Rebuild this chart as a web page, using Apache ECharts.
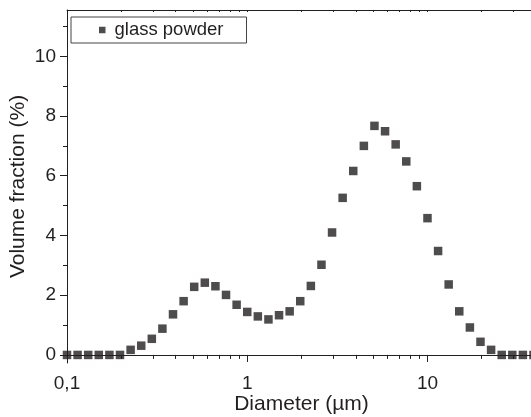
<!DOCTYPE html>
<html>
<head>
<meta charset="utf-8">
<script src="https://cdn.jsdelivr.net/npm/echarts@6/dist/echarts.min.js"></script>
<style>
html,body{margin:0;padding:0;background:#fff;}
#c{width:531px;height:417px;}
</style>
</head>
<body>
<div id="c"></div>
<script>
// Particle diameters (µm)
const diameters = [0.1, 0.1145, 0.1311, 0.1501, 0.1719, 0.1968, 0.2254, 0.2581, 0.2955, 0.3383,
  0.3874, 0.4436, 0.5079, 0.5816, 0.6660, 0.7626, 0.8732,
  1.0, 1.145, 1.311, 1.501, 1.719, 1.968, 2.254, 2.581, 2.955, 3.383,
  3.874, 4.436, 5.079, 5.816, 6.660, 7.626, 8.732,
  10.0, 11.45, 13.11, 15.01, 17.19, 19.68, 22.54, 25.81, 29.55, 33.83, 38.74];
// Volume fraction (%)
const glassPowder = [0, 0, 0, 0, 0, 0, 0.17, 0.31, 0.54, 0.88,
  1.36, 1.80, 2.28, 2.42, 2.30, 2.01, 1.68,
  1.44, 1.29, 1.19, 1.33, 1.46, 1.80, 2.31, 3.02, 4.10,
  5.26, 6.16, 7.00, 7.67, 7.49, 7.05, 6.48, 5.65,
  4.58, 3.48, 2.36, 1.46, 0.92, 0.44, 0.17, 0, 0, 0, 0];
const seriesName = 'glass powder';
const xMajorTicks = [0.1, 1, 10];
const xMinorTicks = [0.2, 0.3, 0.4, 0.5, 0.6, 0.7, 0.8, 0.9, 2, 3, 4, 5, 6, 7, 8, 9, 20, 30, 40];
const yMajorTicks = [0, 2, 4, 6, 8, 10];
const yMinorTicks = [1, 3, 5, 7, 9, 11];

const FONT = 'Liberation Sans, Arial, sans-serif';
const INK = '#231f20';
const chart = echarts.init(document.getElementById('c'), null, {renderer: 'canvas'});
const xRange = {min: 0.1, max: 40};
const yRange = {min: -0.27, max: 11.55};

chart.setOption({
  animation: false,
  backgroundColor: '#fff',
  textStyle: {fontFamily: FONT, color: INK},
  grid: {left: 67, top: 10, right: -5, bottom: 54, containLabel: false, outerBoundsMode: 'none'},
  legend: {
    data: [seriesName],
    left: 71, top: 17,
    orient: 'horizontal',
    icon: 'rect',
    itemWidth: 6.5, itemHeight: 6.5,
    padding: [3, 23, 3, 28],
    borderColor: '#444', borderWidth: 1,
    textStyle: {fontFamily: FONT, fontSize: 18.5, color: INK, padding: [0, 0, 0, 4], lineHeight: 20}
  },
  xAxis: [
    {
      type: 'log', logBase: 10, min: xRange.min, max: xRange.max, position: 'bottom',
      name: 'Diameter (\u00b5m)', nameLocation: 'middle', nameGap: 31, nameMoveOverlap: false,
      nameTextStyle: {fontFamily: FONT, fontSize: 21, color: INK},
      axisLine: {show: true, lineStyle: {color: INK, width: 1}},
      axisTick: {show: true, customValues: xMajorTicks, length: 7, inside: false, lineStyle: {color: INK}},
      axisLabel: {customValues: xMajorTicks, fontFamily: FONT, fontSize: 19, color: INK, margin: 11,
        formatter: v => String(v).replace('.', ',')},
      splitLine: {show: false}, minorTick: {show: false}
    },
    {
      type: 'log', logBase: 10, min: xRange.min, max: xRange.max, position: 'bottom',
      axisLine: {show: false},
      axisTick: {show: true, customValues: xMinorTicks, length: 4, inside: false, lineStyle: {color: INK}},
      axisLabel: {show: false},
      splitLine: {show: false}
    },
    {
      type: 'log', logBase: 10, min: xRange.min, max: xRange.max, position: 'top',
      axisLine: {show: true, lineStyle: {color: INK, width: 1}},
      axisTick: {show: true, customValues: xMajorTicks.concat(xMinorTicks), length: 2, inside: true, lineStyle: {color: INK}},
      axisLabel: {show: false},
      splitLine: {show: false}
    }
  ],
  yAxis: [
    {
      type: 'value', min: yRange.min, max: yRange.max, position: 'left',
      name: 'Volume fraction (%)', nameLocation: 'middle', nameGap: 38, nameMoveOverlap: false,
      nameTextStyle: {fontFamily: FONT, fontSize: 21, color: INK},
      axisLine: {show: true, lineStyle: {color: INK, width: 1}},
      axisTick: {show: true, customValues: yMajorTicks, length: 7, inside: false, lineStyle: {color: INK}},
      axisLabel: {customValues: yMajorTicks, fontFamily: FONT, fontSize: 19, color: INK, margin: 11},
      splitLine: {show: false}
    },
    {
      type: 'value', min: yRange.min, max: yRange.max, position: 'left',
      axisLine: {show: false},
      axisTick: {show: true, customValues: yMinorTicks, length: 4, inside: false, lineStyle: {color: INK}},
      axisLabel: {show: false},
      splitLine: {show: false}
    }
  ],
  series: [{
    name: seriesName,
    type: 'scatter',
    xAxisIndex: 0, yAxisIndex: 0,
    symbol: 'rect', symbolSize: 8.5,
    itemStyle: {color: INK},
    clip: true,
    data: diameters.map((d, i) => [d, glassPowder[i]])
  }]
});
</script>
</body>
</html>
